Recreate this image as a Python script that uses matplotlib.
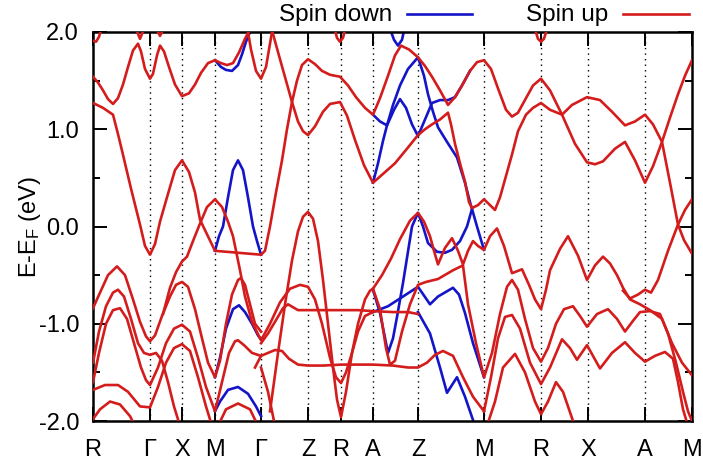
import numpy as np
import matplotlib.pyplot as plt
from matplotlib.lines import Line2D

plt.rcParams['font.family'] = 'Liberation Sans'
plt.rcParams['mathtext.default'] = 'regular'

# high-symmetry points along the path (path length units)
kpt_pos = [0, 57, 89, 122, 168, 215, 248, 280, 325, 391, 448, 495, 552, 599]
kpt_lbl = ['R', 'Γ', 'X', 'M', 'Γ', 'Z', 'R', 'A', 'Z', 'M', 'R', 'X', 'A', 'M']

yticks = [-2.0, -1.0, 0.0, 1.0, 2.0]
ytick_lbl = ['-2.0', '-1.0', '0.0', '1.0', '2.0']

# spin up bands, (k, E-E_F)
up_bands = [
    [(0, 1.91), (3, 1.90), (6, 1.95), (9, 2.06)],
    [(42, 2.06), (47, 1.93), (52, 2.06)],
    [(62, 2.06), (67, 1.96), (72, 2.06)],
    [(0, 1.54), (5, 1.48), (10, 1.40), (15, 1.31), (20, 1.26), (25, 1.32), (30, 1.46),
     (35, 1.64), (40, 1.81), (45, 1.88), (48, 1.80), (52, 1.62), (57, 1.52), (60, 1.57),
     (64, 1.76), (67, 1.86), (71, 1.80), (76, 1.64), (82, 1.46), (89, 1.34), (96, 1.37),
     (102, 1.46), (108, 1.58), (115, 1.68), (122, 1.71), (128, 1.68), (134, 1.66),
     (140, 1.68), (146, 1.79), (152, 1.93), (157, 2.03), (161, 2.10)],
    [(154, 2.06), (158, 1.82), (163, 1.60), (168, 1.52), (173, 1.64), (177, 1.88), (180, 2.06)],
    [(241, 2.06), (244, 1.94), (247, 1.90), (250, 1.94), (253, 2.06)],
    [(441, 2.06), (445, 1.93), (448, 1.90), (451, 1.93), (455, 2.06)],
    [(0, 1.27), (10, 1.22), (20, 1.15), (25, 0.95), (29, 0.78), (38, 0.39), (47, 0.02),
     (52, -0.20), (57, -0.29), (62, -0.18), (67, 0.05), (74, 0.30), (82, 0.58), (89, 0.68),
     (96, 0.56), (102, 0.35), (107, 0.07), (114, -0.08), (122, -0.25), (145, -0.27),
     (168, -0.29), (172, -0.25), (177, 0.00), (183, 0.35), (189, 0.68), (194, 1.00),
     (199, 1.28), (204, 1.50), (209, 1.66), (215, 1.72), (222, 1.67), (229, 1.60),
     (237, 1.56), (247, 1.54), (255, 1.45), (263, 1.33), (272, 1.22), (280, 1.15),
     (287, 1.32), (295, 1.55), (302, 1.76), (308, 1.86), (316, 1.82), (325, 1.74),
     (332, 1.65), (339, 1.54), (347, 1.40), (355, 1.25), (362, 1.33), (369, 1.45),
     (377, 1.60), (384, 1.69), (391, 1.71), (398, 1.62), (405, 1.42), (413, 1.20),
     (419, 1.13), (425, 1.17), (433, 1.32), (440, 1.45), (448, 1.52), (457, 1.40),
     (469, 1.15), (482, 0.85), (494, 0.66), (502, 0.64), (510, 0.67), (522, 0.80),
     (532, 0.87), (542, 0.68), (552, 0.45), (560, 0.62), (569, 0.87), (577, 1.12),
     (585, 1.36), (592, 1.55), (599, 1.71)],
    [(177, 2.08), (180, 1.98), (187, 1.72), (193, 1.50), (199, 1.28), (205, 1.08),
     (210, 0.98), (215, 0.94), (222, 1.03), (230, 1.18), (237, 1.26), (247, 1.28),
     (254, 1.14), (262, 0.89), (271, 0.63), (280, 0.45), (291, 0.55), (302, 0.65),
     (314, 0.80), (325, 0.94), (332, 1.00), (339, 1.05), (347, 1.10), (355, 1.17),
     (358, 1.05), (362, 0.85), (367, 0.65), (372, 0.46), (376, 0.25), (379, 0.19),
     (385, 0.22), (391, 0.28), (397, 0.22), (402, 0.17), (407, 0.30), (413, 0.52),
     (419, 0.74), (425, 0.98), (433, 1.15), (440, 1.22), (448, 1.27), (457, 1.20),
     (469, 1.15), (479, 1.25), (494, 1.33), (507, 1.30), (519, 1.18), (532, 1.04),
     (542, 1.08), (552, 1.15), (560, 1.05), (569, 0.87), (577, 0.45), (585, 0.02),
     (591, -0.14), (599, -0.28)],
    [(530, -0.66), (537, -0.74), (545, -0.70), (552, -0.65), (558, -0.68), (565, -0.55),
     (575, -0.25), (585, 0.02), (592, 0.17), (599, 0.28)],
    [(0, -0.84), (7, -0.68), (15, -0.50), (24, -0.41), (32, -0.50), (40, -0.75), (47, -0.98),
     (53, -1.13), (57, -1.18), (62, -1.12), (69, -0.92), (77, -0.72), (83, -0.60),
     (89, -0.57), (95, -0.62), (102, -0.85), (109, -1.15), (115, -1.40), (122, -1.55),
     (127, -1.38), (133, -1.00), (139, -0.70), (145, -0.55), (148, -0.53), (152, -0.60),
     (157, -0.80), (162, -1.00), (168, -1.08)],
    [(70, -0.90), (77, -0.63), (83, -0.47), (89, -0.36), (94, -0.31), (100, -0.15),
     (107, 0.03), (114, 0.20), (122, 0.28), (129, 0.20), (135, 0.05), (140, -0.10),
     (144, -0.30), (147, -0.45), (152, -0.72), (159, -0.98), (168, -1.17), (177, -1.00),
     (187, -0.78), (197, -0.64), (207, -0.60), (215, -0.62), (222, -0.75), (229, -1.00),
     (237, -1.35), (243, -1.55), (248, -1.61), (253, -1.50), (259, -1.30), (265, -1.08),
     (272, -0.92), (280, -0.88)],
    [(168, -1.20), (175, -1.10), (182, -0.98), (190, -0.84), (195, -0.80), (200, -0.83),
     (205, -0.86), (215, -0.86), (230, -0.86), (248, -0.86), (265, -0.86), (280, -0.87),
     (300, -0.88), (315, -0.88), (325, -0.90)],
    [(162, -1.45), (168, -1.33), (175, -1.30), (182, -1.27), (189, -1.28), (196, -1.36),
     (205, -1.42), (215, -1.43), (230, -1.43), (248, -1.42), (265, -1.42), (280, -1.42),
     (300, -1.43), (315, -1.45), (325, -1.45), (334, -1.40), (342, -1.32), (350, -1.28),
     (360, -1.33), (370, -1.55), (380, -1.75), (391, -1.90)],
    [(177, -1.90), (185, -1.30), (192, -0.80), (199, -0.35), (205, -0.05), (210, 0.10),
     (215, 0.15), (220, 0.08), (225, -0.15), (230, -0.55), (235, -1.00), (240, -1.45),
     (244, -1.78), (248, -1.96), (253, -1.70), (259, -1.30), (265, -1.00), (272, -0.75),
     (277, -0.66), (280, -0.64), (289, -0.50), (298, -0.33), (307, -0.13), (317, 0.06),
     (325, 0.14), (331, 0.05), (337, -0.10), (341, -0.25), (345, -0.39), (352, -0.22),
     (359, -0.12), (365, -0.25), (370, -0.39), (375, -0.25), (380, -0.15), (385, -0.20),
     (391, -0.24), (397, -0.10), (404, -0.02), (411, -0.20), (419, -0.48), (424, -0.46),
     (429, -0.44), (436, -0.60), (442, -0.75), (448, -0.85), (453, -0.65), (457, -0.45),
     (467, -0.23), (475, -0.10), (485, -0.30), (494, -0.55), (502, -0.40), (510, -0.31),
     (517, -0.38), (524, -0.50), (530, -0.63), (537, -0.75), (547, -0.80), (557, -0.86),
     (569, -0.95), (579, -1.20), (589, -1.40), (599, -1.53)],
    [(280, -0.64), (287, -0.85), (293, -1.25), (297, -1.42), (302, -1.38), (309, -1.08),
     (317, -0.80), (325, -0.60), (333, -0.57), (345, -0.54), (360, -0.45), (370, -0.40),
     (375, -0.80), (383, -1.20), (391, -1.55), (399, -1.30), (407, -0.90), (414, -0.62),
     (419, -0.55), (425, -0.65), (432, -0.95), (440, -1.25), (448, -1.39), (455, -1.25),
     (463, -1.00), (471, -0.85), (480, -0.82), (487, -0.92), (494, -1.03), (504, -0.90),
     (515, -0.85), (524, -0.95), (532, -1.08), (540, -0.97), (547, -0.88), (557, -0.87),
     (567, -0.90), (575, -1.10), (583, -1.40), (590, -1.70), (595, -1.90), (599, -2.00)],
    [(0, -1.60), (6, -1.30), (13, -1.00), (20, -0.86), (27, -0.84), (34, -0.95), (41, -1.20),
     (48, -1.45), (53, -1.58), (57, -1.63), (65, -1.45), (73, -1.20), (81, -1.05),
     (89, -1.01), (97, -1.08), (105, -1.35), (113, -1.65), (122, -1.90), (129, -1.60),
     (136, -1.30), (142, -1.18), (145, -1.17), (151, -1.22), (159, -1.30), (168, -1.33)],
    [(0, -1.40), (6, -1.08), (13, -0.82), (20, -0.68), (25, -0.65), (31, -0.72), (38, -0.95),
     (45, -1.20), (51, -1.30), (57, -1.32), (63, -1.30), (69, -1.38), (75, -1.60),
     (81, -1.85), (87, -2.05)],
    [(0, -1.68), (12, -1.63), (25, -1.63), (35, -1.70), (47, -1.85), (57, -1.86), (65, -1.65),
     (73, -1.40), (81, -1.25), (89, -1.21), (97, -1.28), (105, -1.55), (113, -1.85), (119, -2.05)],
    [(0, -1.98), (7, -1.88), (17, -1.80), (27, -1.83), (37, -1.95), (42, -2.05)],
    [(125, -2.05), (133, -1.88), (145, -1.82), (157, -1.88), (165, -2.05)],
    [(168, -1.45), (175, -1.70), (182, -2.05)],
    [(391, -1.90), (398, -1.55), (405, -1.15), (412, -0.93), (419, -0.91), (427, -1.05),
     (437, -1.40), (448, -1.62), (457, -1.45), (469, -1.16), (477, -1.25), (484, -1.37),
     (494, -1.22), (507, -1.46), (519, -1.30), (532, -1.19), (542, -1.30), (552, -1.39),
     (562, -1.33), (572, -1.29), (580, -1.36), (585, -1.60), (590, -1.88), (595, -2.05)],
    [(394, -2.05), (402, -1.80), (410, -1.45), (422, -1.31), (432, -1.50), (442, -1.80),
     (448, -1.93), (455, -1.80), (463, -1.60), (470, -1.70), (480, -2.00), (484, -2.05)],
]

# spin down bands (only where they differ from spin up)
down_bands = [
    [(122, 1.71), (128, 1.64), (133, 1.61), (139, 1.60), (145, 1.66), (149, 1.77),
     (153, 1.90), (157, 2.00), (161, 2.08)],
    [(122, -0.25), (126, -0.10), (130, 0.00), (135, 0.30), (140, 0.58), (145, 0.68),
     (150, 0.58), (155, 0.30), (160, 0.00), (164, -0.15), (168, -0.29)],
    [(280, 1.15), (287, 1.08), (294, 1.04), (301, 1.20), (307, 1.31), (313, 1.22),
     (319, 1.05), (325, 0.93), (332, 1.10), (339, 1.27), (347, 1.30), (355, 1.30),
     (362, 1.33), (369, 1.45), (377, 1.60)],
    [(280, 0.45), (285, 0.65), (290, 0.88), (294, 1.04), (300, 1.25), (307, 1.45),
     (315, 1.62), (325, 1.74), (331, 1.55), (335, 1.36), (340, 1.18), (345, 1.02),
     (354, 0.87), (364, 0.71), (372, 0.45), (377, 0.25), (379, 0.18), (384, 0.00), (391, -0.24)],
    [(296, 2.06), (301, 1.92), (305, 1.86), (309, 1.92), (312, 2.06)],
    [(280, -0.65), (287, -0.89), (295, -1.30), (300, -1.15), (304, -0.93), (310, -0.58),
     (319, 0.00), (325, 0.14), (330, 0.00), (335, -0.17), (344, -0.26), (352, -0.27),
     (359, -0.24), (367, -0.15), (374, 0.00), (379, 0.18)],
    [(280, -0.88), (295, -0.82), (310, -0.72), (325, -0.62), (337, -0.80), (345, -0.72),
     (360, -0.63), (366, -0.70), (372, -0.89), (380, -1.20), (391, -1.55)],
    [(325, -0.88), (337, -1.10), (347, -1.45), (354, -1.71), (364, -1.55), (372, -1.75), (382, -2.05)],
    [(122, -1.55), (127, -1.35), (133, -1.05), (140, -0.85), (146, -0.81), (152, -0.88),
     (159, -1.00), (165, -1.12), (168, -1.16)],
    [(122, -1.90), (127, -1.80), (135, -1.68), (145, -1.65), (155, -1.72), (163, -1.85), (168, -1.95)],
]

red = '#d41c1c'
blue = '#1414c8'

fig = plt.figure(figsize=(7.03, 4.70), dpi=100)
ax = fig.add_axes([93 / 703, 1 - 421 / 470, 599 / 703, 389 / 470])

for k in kpt_pos[1:-1]:
    ax.axvline(k, color='k', ls=(0, (1, 3)), lw=1.0, zorder=1)

for b in down_bands:
    k, e = np.array(b).T
    ax.plot(k, e, color=blue, lw=1.9, zorder=2, solid_joinstyle='round')
for b in up_bands:
    k, e = np.array(b).T
    ax.plot(k, e, color=red, lw=1.9, zorder=3, solid_joinstyle='round')

ax.set_xlim(kpt_pos[0], kpt_pos[-1])
ax.set_ylim(-2.0, 2.0)
ax.set_xticks(kpt_pos)
ax.set_xticklabels(kpt_lbl)
ax.set_yticks(yticks)
ax.set_yticklabels(ytick_lbl)
ax.set_yticks([-1.5, -0.5, 0.5, 1.5], minor=True)
ax.tick_params(which='both', direction='in', top=True, right=True, width=1.4, labelsize=17)
ax.tick_params(which='major', length=10)
ax.tick_params(which='minor', length=5)
ax.tick_params(axis='y', pad=10)
ax.tick_params(axis='x', pad=13)
for s in ax.spines.values():
    s.set_linewidth(1.8)

ax.set_ylabel('E-E$_F$ (eV)', fontsize=17)
ax.yaxis.set_label_coords(-0.084, 0.5)

# key above the plot
fig.text(392 / 703, 1 - 15 / 470, 'Spin down', ha='right', va='center', fontsize=17.5)
fig.add_artist(Line2D([407 / 703, 472 / 703], [1 - 14 / 470] * 2, color=blue, lw=1.9))
fig.text(608 / 703, 1 - 15 / 470, 'Spin up', ha='right', va='center', fontsize=17.5)
fig.add_artist(Line2D([623 / 703, 689 / 703], [1 - 14 / 470] * 2, color=red, lw=1.9))

fig.savefig('out.png', dpi=100)
